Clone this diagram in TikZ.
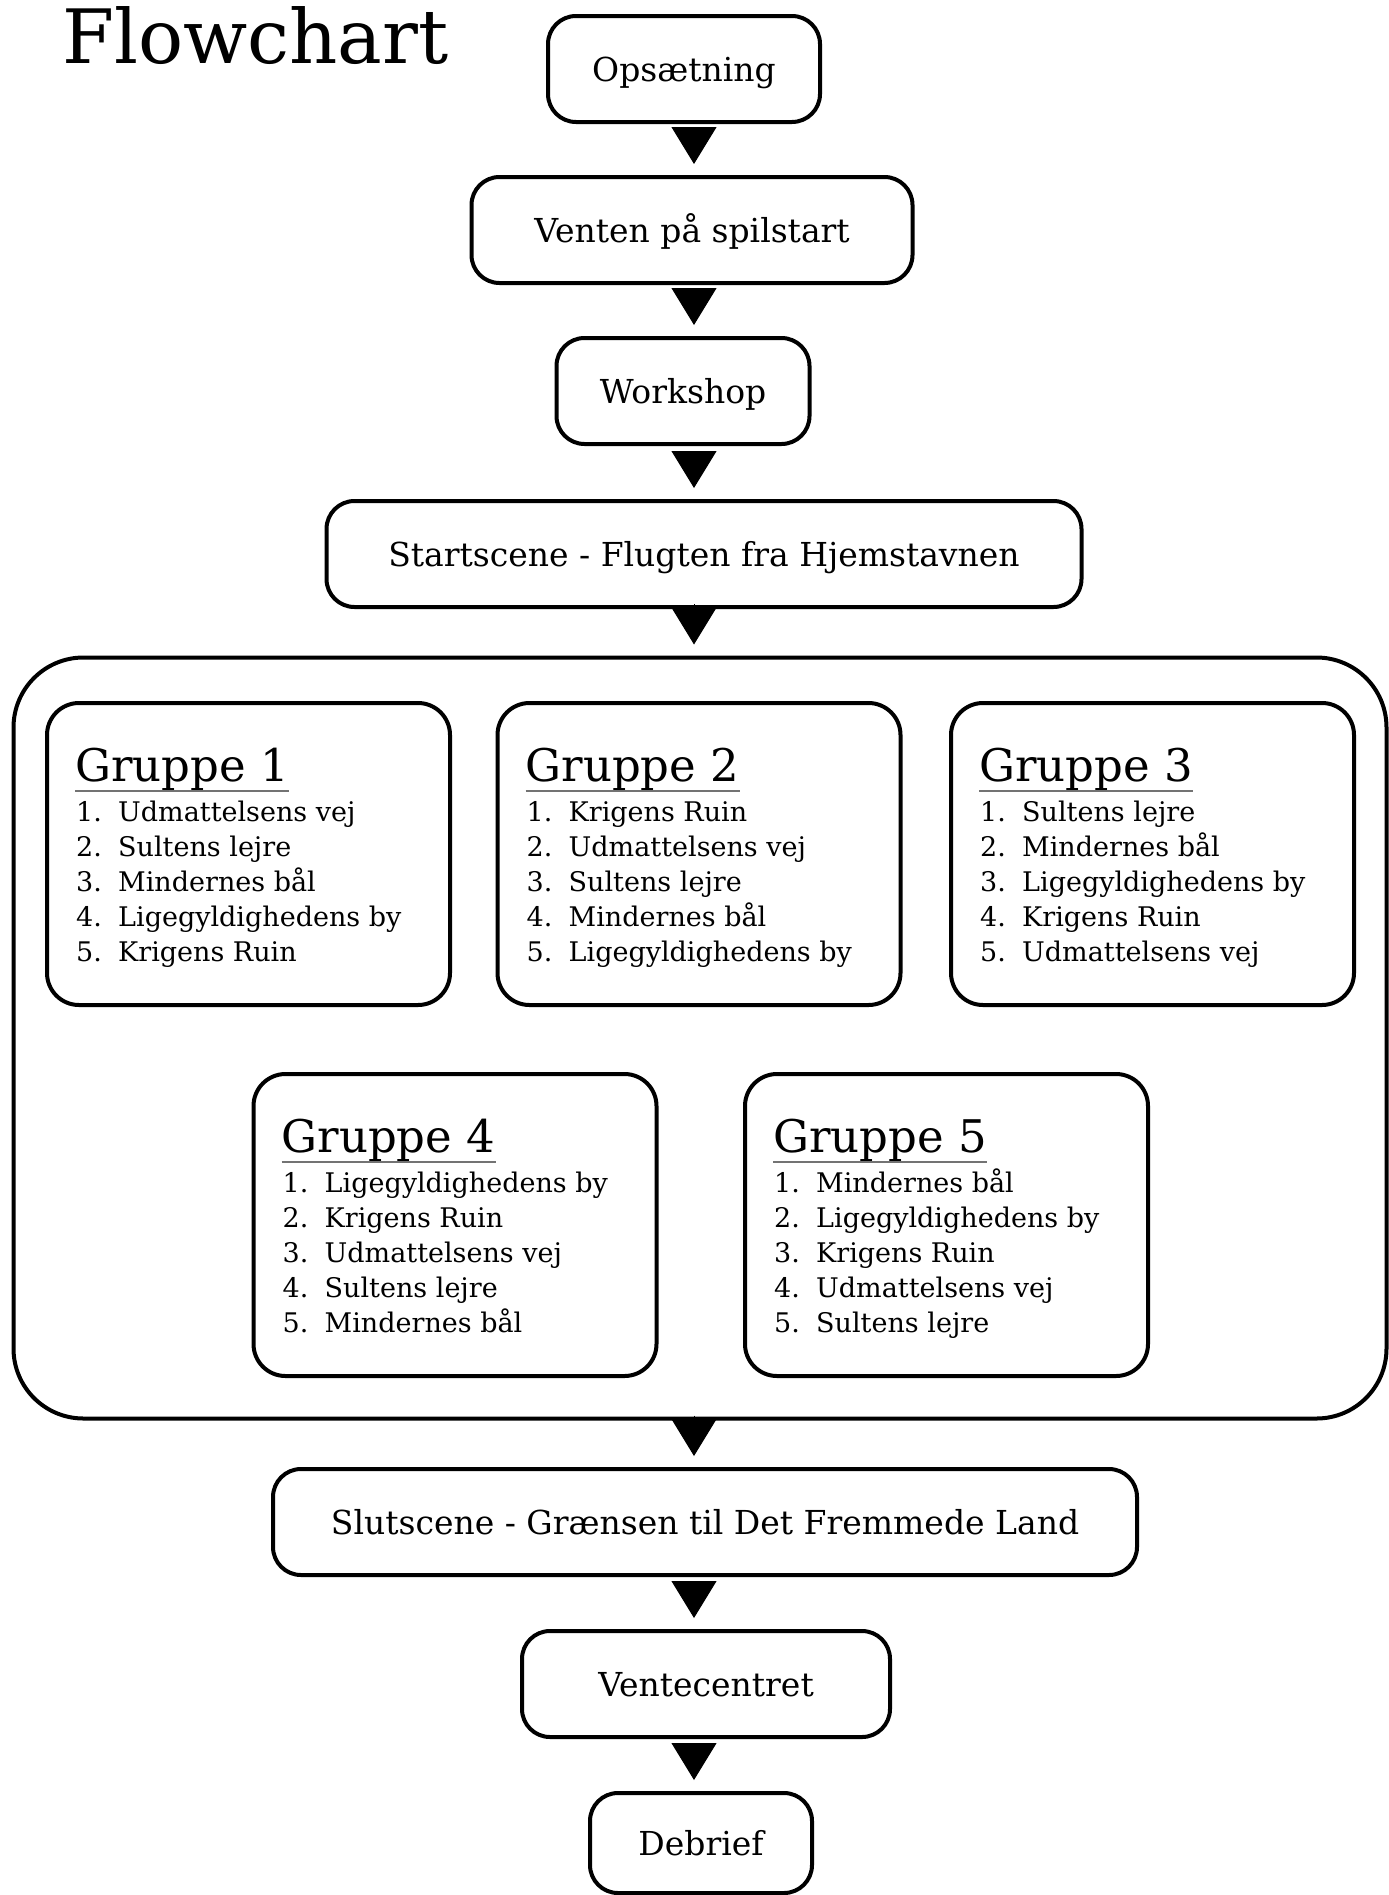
\documentclass[tikz,border=0pt]{standalone}
\usepackage{fontspec}
\setmainfont{DejaVu Serif}
\usetikzlibrary{arrows.meta,calc}

\tikzset{
  stagebox/.style={draw, line width=4pt, rounded corners=28pt, minimum height=106pt, inner sep=0pt,
    text height=25pt, text depth=0pt, font=\fontsize{33}{40}\selectfont},
  grpbox/.style={draw, line width=4pt, rounded corners=32pt, minimum width=403pt, minimum height=302pt},
  outerbox/.style={draw, line width=4pt, rounded corners=70pt, minimum width=1373pt, minimum height=761pt},
  grphead/.style={anchor=base west, inner sep=0pt, font=\fontsize{45}{50}\selectfont},
  grpitem/.style={anchor=base west, inner sep=0pt, font=\fontsize{27}{35}\selectfont},
  uline/.style={draw=black!55, line width=1.5pt},
  flow/.style={-{Triangle[width=45pt,length=37pt]}, line width=1pt, shorten <=5pt, shorten >=11pt}
}

\begin{document}
\begin{tikzpicture}[x=1pt, y=-1pt]
            \useasboundingbox (0,0) rectangle (1389,1895);
            \coordinate (axis) at (694,0);

            \node[anchor=base west, inner sep=0pt, font=\fontsize{75}{80}\selectfont] (title) at (62,63) {Flowchart};

            \node[stagebox, minimum width=272pt] (ops) at (684,69) {Opsætning};
            \node[stagebox, minimum width=441pt] (vent) at (692,230) {Venten på spilstart};
            \node[stagebox, minimum width=253pt] (work) at (683,391) {Workshop};
            \node[stagebox, minimum width=755pt] (start) at (704,554) {Startscene - Flugten fra Hjemstavnen};

            \node[outerbox] (phases) at (700,1038) {};

            \node[grpbox] (g1) at (248.5,854) {};
            \node[grphead] (g1h) at ($(g1.north west)+(30,80)$) {Gruppe 1};
            \draw[uline] ([yshift=-10pt]g1h.base west) -- ([yshift=-10pt]g1h.base east);
            \foreach \t [count=\i] in {Udmattelsens vej, Sultens lejre, Mindernes bål, Ligegyldighedens by, Krigens Ruin}
              \node[grpitem] (g1-\i) at ($(g1h.base west)+(1,5+35*\i)$) {\makebox[42pt][l]{\i.}\t};

            \node[grpbox] (g2) at (699,854) {};
            \node[grphead] (g2h) at ($(g2.north west)+(30,80)$) {Gruppe 2};
            \draw[uline] ([yshift=-10pt]g2h.base west) -- ([yshift=-10pt]g2h.base east);
            \foreach \t [count=\i] in {Krigens Ruin, Udmattelsens vej, Sultens lejre, Mindernes bål, Ligegyldighedens by}
              \node[grpitem] (g2-\i) at ($(g2h.base west)+(1,5+35*\i)$) {\makebox[42pt][l]{\i.}\t};

            \node[grpbox] (g3) at (1152.5,854) {};
            \node[grphead] (g3h) at ($(g3.north west)+(30,80)$) {Gruppe 3};
            \draw[uline] ([yshift=-10pt]g3h.base west) -- ([yshift=-10pt]g3h.base east);
            \foreach \t [count=\i] in {Sultens lejre, Mindernes bål, Ligegyldighedens by, Krigens Ruin, Udmattelsens vej}
              \node[grpitem] (g3-\i) at ($(g3h.base west)+(1,5+35*\i)$) {\makebox[42pt][l]{\i.}\t};

            \node[grpbox] (g4) at (455,1225) {};
            \node[grphead] (g4h) at ($(g4.north west)+(30,80)$) {Gruppe 4};
            \draw[uline] ([yshift=-10pt]g4h.base west) -- ([yshift=-10pt]g4h.base east);
            \foreach \t [count=\i] in {Ligegyldighedens by, Krigens Ruin, Udmattelsens vej, Sultens lejre, Mindernes bål}
              \node[grpitem] (g4-\i) at ($(g4h.base west)+(1,5+35*\i)$) {\makebox[42pt][l]{\i.}\t};

            \node[grpbox] (g5) at (946.5,1225) {};
            \node[grphead] (g5h) at ($(g5.north west)+(30,80)$) {Gruppe 5};
            \draw[uline] ([yshift=-10pt]g5h.base west) -- ([yshift=-10pt]g5h.base east);
            \foreach \t [count=\i] in {Mindernes bål, Ligegyldighedens by, Krigens Ruin, Udmattelsens vej, Sultens lejre}
              \node[grpitem] (g5-\i) at ($(g5h.base west)+(1,5+35*\i)$) {\makebox[42pt][l]{\i.}\t};

            \node[stagebox, minimum width=864pt] (slut) at (705,1522) {Slutscene - Grænsen til Det Fremmede Land};
            \node[stagebox, minimum width=368pt] (vente) at (706,1684) {Ventecentret};
            \node[stagebox, minimum width=222pt, minimum height=100pt] (debrief) at (701,1843) {Debrief};

            \draw[flow] (ops.south -| axis) -- (vent.north -| axis);
            \draw[flow] (vent.south -| axis) -- (work.north -| axis);
            \draw[flow] (work.south -| axis) -- (start.north -| axis);
            \draw[flow] (start.south -| axis) -- (phases.north -| axis);
            \draw[flow] (phases.south -| axis) -- (slut.north -| axis);
            \draw[flow] (slut.south -| axis) -- (vente.north -| axis);
            \draw[flow] (vente.south -| axis) -- (debrief.north -| axis);
        \end{tikzpicture}
\end{document}
